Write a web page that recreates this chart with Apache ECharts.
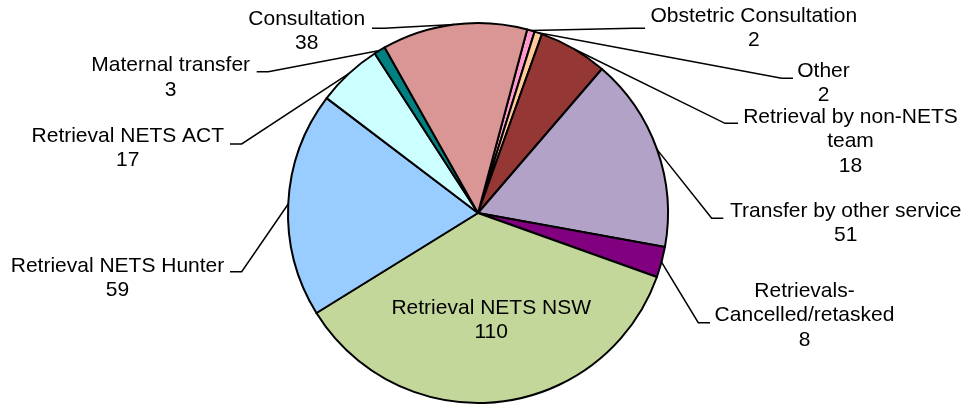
<!DOCTYPE html>
<html><head><meta charset="utf-8">
<script src="https://cdn.jsdelivr.net/npm/echarts@6/dist/echarts.min.js"></script>
<style>html,body{margin:0;padding:0;background:#fff}#c{width:968px;height:405px}</style>
</head><body><div id="c"></div>
<script>
const categories = ['Obstetric Consultation','Other','Retrieval by non-NETS\nteam','Transfer by other service','Retrievals-\nCancelled/retasked','Retrieval NETS NSW','Retrieval NETS Hunter','Retrieval NETS ACT','Maternal transfer','Consultation'];
const values = [2, 2, 18, 51, 8, 110, 59, 17, 3, 38];
const colors = ['#FF99CC','#FFCC99','#953735','#B3A2C7','#800080','#C4D79B','#99CCFF','#CCFFFF','#008080','#DA9694'];

// label placement (style): [text centre x, first line centre y, elbow x, elbow y, line end x]
const labelPlaces = [
  [753.8, 16.3, 633, 28.3, 645],
  [823.5, 71.3, 781.7, 78.3, 793],
  [850.5, 117, 725, 123.3, 738],
  [845.8, 211.3, 711.7, 218.3, 723.3],
  [804.5, 291.3, 698.3, 322.7, 710],
  [491.2, 308, null, null, null],
  [117.5, 266.3, 241.7, 271.7, 230],
  [127.8, 136.3, 241.7, 144, 230],
  [170.7, 65.7, 268.3, 71.7, 256.7],
  [306.7, 19, 384, 28.3, 372]
];
const LH = 24.4;

const chart = echarts.init(document.getElementById('c'));
const data = categories.map((n, i) => {
  const item = { name: n, value: values[i], itemStyle: { color: colors[i] } };
  if (labelPlaces[i][2] == null) {
    item.label = { position: 'inside' };
    item.labelLine = { show: false };
  }
  return item;
});
chart.setOption({
  animation: false,
  series: [{
    type: 'pie',
    center: [478, 213],
    radius: 190,
    startAngle: 75,
    clockwise: true,
    avoidLabelOverlap: false,
    data: data,
    itemStyle: { borderColor: '#000', borderWidth: 2 },
    emphasis: { disabled: true },
    label: {
      show: true,
      position: 'outside',
      formatter: '{b}\n{c}',
      color: '#000',
      fontFamily: '"Liberation Sans", Arial, sans-serif',
      fontSize: 21,
      lineHeight: LH,
      align: 'center'
    },
    labelLine: {
      show: true,
      length: 20, length2: 10,
      lineStyle: { color: '#000', width: 1.5 }
    },
    labelLayout: function (p) {
      const L = labelPlaces[p.dataIndex];
      const res = { x: L[0], y: L[1] - LH / 2, align: 'center', verticalAlign: 'top' };
      if (L[2] != null && p.labelLinePoints) {
        res.labelLinePoints = [p.labelLinePoints[0], [L[2], L[3]], [L[4], L[3]]];
      }
      return res;
    }
  }]
});
</script>
</body></html>
